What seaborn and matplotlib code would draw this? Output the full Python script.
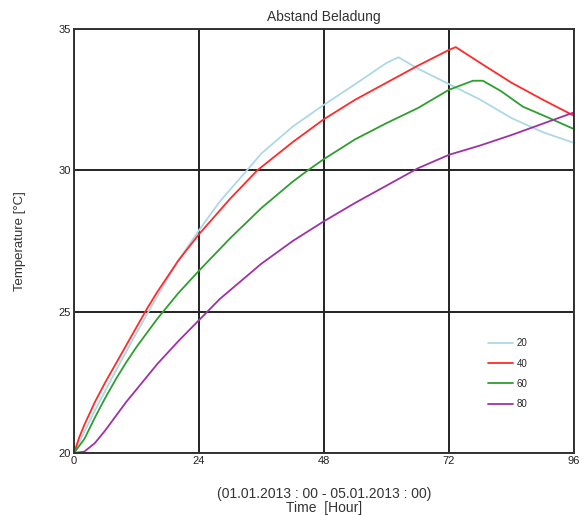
import matplotlib
matplotlib.use("Agg")
import matplotlib.pyplot as plt
import seaborn as sns
import pandas as pd

# ---- data ----
hours_20 = [0, 2, 4, 8, 12, 16, 20, 24, 28, 33.2, 36, 42, 48, 54, 60, 62.3, 66, 72, 78, 84, 90, 96]
temp_20 = [20, 20.75, 21.5, 22.9, 24.25, 25.55, 26.8, 27.88, 28.9, 30.0, 30.6, 31.55, 32.32, 33.05, 33.8, 34.0, 33.6, 33.05, 32.5, 31.85, 31.35, 30.97]

hours_40 = [0, 1, 2, 4, 6, 8, 10, 12, 14, 16, 20, 24, 30, 35.2, 42, 48, 54, 60, 66, 72, 73.3, 78, 84, 90, 96]
temp_40 = [20, 20.55, 21.0, 21.8, 22.5, 23.15, 23.8, 24.45, 25.1, 25.7, 26.8, 27.74, 29.0, 30.0, 31.0, 31.81, 32.5, 33.1, 33.7, 34.26, 34.36, 33.8, 33.1, 32.5, 31.93]

hours_60 = [0, 2, 4, 6, 8, 10, 12, 16, 20, 24, 30, 36, 42, 44.9, 48, 54, 60, 66, 72, 76.6, 78.5, 82, 86.2, 90, 96]
temp_60 = [20, 20.5, 21.25, 21.95, 22.6, 23.2, 23.75, 24.75, 25.65, 26.45, 27.6, 28.67, 29.6, 30.0, 30.4, 31.1, 31.67, 32.2, 32.85, 33.17, 33.17, 32.8, 32.25, 31.95, 31.46]

hours_80 = [0, 2, 4, 6, 8, 10, 12, 16, 20, 24, 28, 36, 42, 48, 54, 60, 66, 72, 78, 84, 90, 96]
temp_80 = [20, 20.05, 20.35, 20.8, 21.3, 21.8, 22.25, 23.15, 23.95, 24.7, 25.45, 26.7, 27.5, 28.2, 28.85, 29.46, 30.07, 30.55, 30.88, 31.25, 31.65, 32.05]

series_names = ["20", "40", "60", "80"]
series_colors = ["#add8e6", "#ff2a2a", "#2e9e2e", "#a030a8"]

x_ticks = [0, 24, 48, 72, 96]
y_ticks = [20, 25, 30, 35]

title = "Abstand Beladung"
x_label = "(01.01.2013 : 00 - 05.01.2013 : 00)\nTime  [Hour]"
y_label = "Temperature [°C]"

# ---- build long-form table ----
frames = []
for name, h, t in zip(series_names, [hours_20, hours_40, hours_60, hours_80],
                      [temp_20, temp_40, temp_60, temp_80]):
    frames.append(pd.DataFrame({"hour": h, "temp": t, "series": name}))
df = pd.concat(frames, ignore_index=True)

sns.set_theme(style="white")
plt.rcParams["font.family"] = ["Liberation Sans", "DejaVu Sans"]

fig = plt.figure(figsize=(5.82, 5.15), dpi=100)
ax = fig.add_axes([74 / 582, 1 - 453 / 515, 500 / 582, 424 / 515])

sns.lineplot(data=df, x="hour", y="temp", hue="series", hue_order=series_names,
             palette=dict(zip(series_names, series_colors)), estimator=None,
             sort=False, linewidth=1.3, ax=ax)

ax.set_xlim(0, 96)
ax.set_ylim(20, 35)
ax.set_xticks(x_ticks)
ax.set_yticks(y_ticks)
ax.tick_params(axis="both", length=0, labelsize=8, colors="#222222", pad=2)
ax.grid(True, color="#222222", linewidth=1.4)
ax.set_axisbelow(True)
for s in ax.spines.values():
    s.set_color("#333333")
    s.set_linewidth(1.4)

ax.set_title(title, fontsize=10, color="#333333", pad=6)
ax.set_xlabel(x_label, fontsize=10, color="#333333", labelpad=15, linespacing=1.0)
ax.set_ylabel(y_label, fontsize=9.5, color="#333333", labelpad=24)

leg = ax.legend(title=None, frameon=False, fontsize=7, loc="lower right",
                bbox_to_anchor=(0.925, 0.083), handlelength=2.6, labelspacing=1.05,
                handletextpad=0.4)
for line in leg.get_lines():
    line.set_linewidth(1.3)

fig.savefig("out.png", dpi=100)
